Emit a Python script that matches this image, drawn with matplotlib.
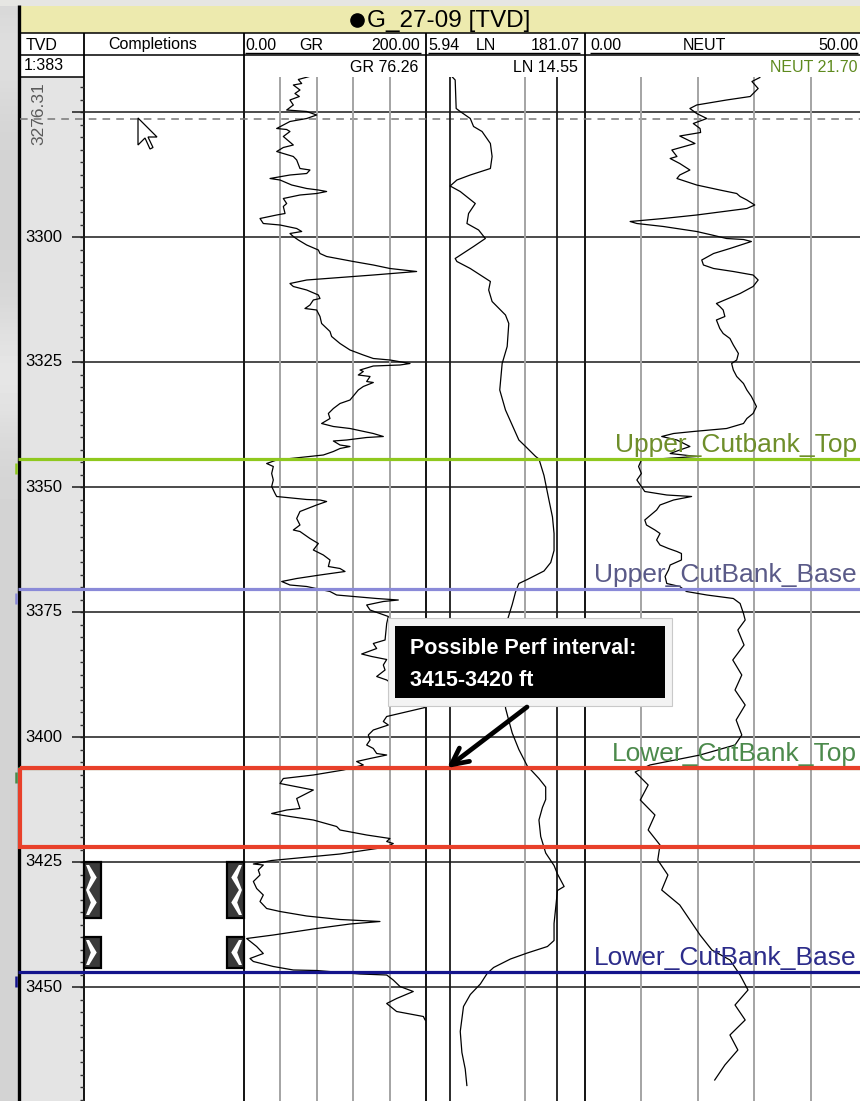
import numpy as np
import matplotlib
matplotlib.use("Agg")
import matplotlib.pyplot as plt
from matplotlib.patches import Rectangle, Polygon

plt.rcParams['font.family'] = ['Liberation Sans', 'DejaVu Sans']

# ---------------------------------------------------------------- log data
gr_depth = [3267.9, 3268.5, 3269.3, 3269.6, 3270.6, 3271.3, 3271.9, 3272.6, 3273.6, 3274.6,
            3274.9, 3275.6, 3276.3, 3276.9, 3278.3, 3278.5, 3278.9, 3279.9, 3281.6, 3282.1,
            3282.9, 3283.9, 3284.6, 3286.3, 3286.6, 3287.3, 3287.6, 3288.3, 3288.6, 3289.6,
            3290.3, 3290.6, 3290.9, 3291.3, 3291.6, 3292.3, 3293.3, 3293.9, 3295.3, 3295.6,
            3296.3, 3297.3, 3297.6, 3298.3, 3298.9, 3299.3, 3299.9, 3300.6, 3301.6, 3302.6,
            3303.3, 3303.9, 3304.9, 3305.6, 3306.3, 3306.9, 3307.6, 3307.9, 3308.6, 3309.3,
            3309.9, 3310.6, 3311.6, 3312.3, 3312.6, 3313.6, 3314.3, 3314.6, 3315.9, 3317.3,
            3318.9, 3319.9, 3321.3, 3322.6, 3323.6, 3324.3, 3324.6, 3325.3, 3325.6, 3325.8,
            3326.6, 3326.9, 3327.6, 3327.9, 3328.9, 3329.1, 3329.9, 3330.6, 3332.6, 3333.3,
            3334.3, 3335.3, 3336.3, 3337.3, 3337.9, 3338.3, 3339.3, 3339.9, 3340.1, 3340.6,
            3340.8, 3341.6, 3341.9, 3342.3, 3342.9, 3343.6, 3344.6, 3345.3, 3345.9, 3347.3,
            3348.6, 3349.9, 3351.3, 3351.9, 3352.5, 3352.6, 3352.9, 3353.6, 3354.9, 3356.3,
            3357.6, 3358.6, 3358.9, 3360.3, 3361.3, 3362.6, 3363.6, 3364.6, 3365.9, 3366.3,
            3366.9, 3367.6, 3368.3, 3368.9, 3369.6, 3369.9, 3370.9, 3371.6, 3371.9, 3372.3,
            3372.6, 3372.9, 3373.6, 3374.6, 3375.3, 3375.9, 3377.3, 3380.6, 3381.3, 3382.3,
            3383.4, 3383.9, 3384.5, 3385.6, 3386.6, 3387.9, 3388.6, 3394.1, 3395.9, 3396.9,
            3397.6, 3398.6, 3399.6, 3400.6, 3401.6, 3402.3, 3403.3, 3403.6, 3404.3, 3404.9,
            3405.6, 3406.6, 3407.6, 3408.3, 3409.3, 3410.6, 3412.3, 3414.3, 3414.6, 3415.3,
            3415.9, 3416.6, 3417.9, 3418.6, 3419.6, 3420.3, 3420.9, 3421.3, 3422.0, 3423.4,
            3424.7, 3425.4, 3425.6, 3426.6, 3427.6, 3428.9, 3430.3, 3431.6, 3432.9, 3434.3,
            3434.9, 3435.8, 3436.5, 3436.9, 3437.4, 3438.3, 3439.6, 3440.3, 3441.9, 3443.3,
            3444.3, 3444.9, 3445.9, 3446.6, 3446.7, 3447.4, 3447.6, 3448.6, 3449.9, 3450.9,
            3452.3, 3453.3, 3454.9, 3455.9, 3456.6, 3457.0]
gr_value = [71.8, 59.7, 63.4, 54.2, 61.5, 56.0, 60.8, 50.5, 54.2, 46.9,
            68.9, 79.8, 68.9, 50.5, 35.9, 46.9, 50.5, 43.2, 54.2, 43.2,
            35.9, 54.2, 57.9, 61.5, 72.5, 68.9, 50.5, 28.6, 39.6, 52.4,
            68.9, 81.7, 90.8, 79.8, 61.5, 43.2, 46.9, 43.2, 45.1, 35.9,
            17.6, 21.2, 39.6, 57.9, 63.4, 50.5, 54.2, 59.7, 68.9, 81.7,
            83.5, 90.8, 120.1, 142.1, 160.4, 189.7, 142.1, 120.1, 68.9, 50.5,
            54.2, 68.9, 81.7, 83.5, 76.2, 72.5, 67.0, 79.8, 83.5, 85.3,
            94.5, 96.3, 105.5, 116.5, 131.1, 142.1, 160.4, 182.4, 171.4, 142.1,
            127.5, 131.1, 125.6, 138.5, 134.8, 142.1, 131.1, 125.6, 116.5, 105.5,
            98.2, 92.7, 94.5, 85.3, 98.2, 116.5, 142.1, 153.1, 134.8, 112.8,
            98.2, 105.5, 116.5, 105.5, 98.2, 87.2, 35.9, 24.9, 32.2, 30.4,
            32.2, 30.4, 34.1, 35.9, 68.9, 83.5, 90.8, 79.8, 61.5, 57.9,
            61.5, 54.2, 61.5, 72.5, 81.7, 76.2, 87.2, 94.5, 92.7, 105.5,
            111.0, 83.5, 57.9, 41.4, 50.5, 68.9, 94.5, 101.8, 120.1, 145.8,
            169.6, 153.1, 134.8, 138.5, 149.4, 158.6, 156.8, 155.0, 142.1, 145.8,
            129.3, 140.3, 156.8, 153.1, 155.0, 145.8, 156.8, 199.0, 156.8, 153.1,
            158.6, 142.1, 136.6, 138.5, 134.8, 142.1, 145.8, 156.8, 138.5, 123.8,
            131.1, 109.2, 76.2, 43.2, 39.6, 76.2, 57.9, 61.5, 46.9, 30.4,
            50.5, 76.2, 101.8, 105.5, 134.8, 160.4, 156.8, 164.0, 156.8, 105.5,
            30.4, 10.3, 21.2, 15.7, 17.6, 10.3, 13.9, 21.2, 17.6, 24.9,
            39.6, 68.9, 105.5, 149.4, 116.5, 79.8, 32.2, 2.9, 13.9, 21.2,
            6.6, 10.3, 32.2, 54.2, 79.8, 127.5, 156.8, 164.0, 171.4, 186.0,
            167.7, 156.8, 167.7, 197.1, 199.0, 205.0]

ln_depth = [3267.9, 3268.6, 3274.3, 3274.9, 3276.3, 3277.9, 3278.9, 3281.3, 3283.9, 3286.3,
            3287.6, 3288.6, 3289.8, 3290.9, 3293.3, 3295.3, 3297.3, 3298.6, 3300.3, 3301.9,
            3304.3, 3304.9, 3306.3, 3308.9, 3310.6, 3312.9, 3315.6, 3317.3, 3321.9, 3325.3,
            3330.6, 3334.6, 3340.6, 3341.9, 3343.9, 3344.4, 3347.7, 3352.7, 3356.0, 3359.3,
            3362.7, 3365.1, 3366.8, 3368.5, 3369.3, 3371.0, 3373.5, 3376.4, 3394.2, 3396.7,
            3399.2, 3402.5, 3405.8, 3408.3, 3410.0, 3412.5, 3414.1, 3416.6, 3419.9, 3423.2,
            3425.7, 3427.4, 3429.9, 3430.7, 3434.0, 3437.3, 3440.7, 3441.9, 3443.2, 3444.4,
            3446.1, 3447.3, 3449.4, 3451.5, 3453.9, 3458.9, 3463.1, 3466.4, 3469.7]
ln_value = [10.35, 11.12, 11.36, 12.39, 15.38, 16.51, 19.81, 23.70, 24.59, 23.70,
            15.38, 11.54, 9.98, 12.39, 17.13, 14.83, 14.32, 18.40, 21.27, 16.51,
            11.12, 11.54, 15.38, 23.70, 22.85, 24.59, 32.78, 35.20, 34.00, 30.52,
            28.98, 32.78, 43.70, 50.5, 62.7, 67.3, 75.0, 83.6, 90.0, 93.1,
            93.1, 86.7, 75.0, 52.4, 43.7, 40.7, 37.9, 34.4, 32.8, 35.2,
            37.9, 43.7, 52.4, 67.3, 77.8, 77.8, 72.5, 67.3, 69.9, 77.8,
            93.1, 100.2, 115.6, 100.2, 96.6, 93.1, 93.1, 80.8, 52.4, 36.5,
            25.4, 22.1, 19.1, 15.4, 13.3, 12.4, 12.85, 13.8, 14.3]

neut_depth = [3268.1, 3268.9, 3270.3, 3271.9, 3272.6, 3273.6, 3274.3, 3275.3, 3276.3, 3277.3,
              3278.3, 3279.1, 3279.8, 3281.3, 3282.6, 3283.9, 3284.3, 3285.3, 3286.6, 3287.6,
              3288.3, 3289.6, 3290.6, 3291.3, 3291.9, 3292.6, 3293.6, 3294.3, 3295.6, 3296.3,
              3296.9, 3297.3, 3297.9, 3298.9, 3299.6, 3300.3, 3300.5, 3300.9, 3302.3, 3303.3,
              3304.6, 3305.6, 3306.3, 3306.9, 3307.6, 3308.6, 3309.9, 3311.3, 3313.3, 3313.9,
              3314.6, 3315.9, 3316.6, 3318.3, 3319.3, 3320.3, 3321.6, 3323.3, 3324.6, 3325.3,
              3326.6, 3327.9, 3329.3, 3330.6, 3331.9, 3333.9, 3335.3, 3336.3, 3337.3, 3338.3,
              3338.9, 3339.3, 3339.9, 3340.6, 3341.9, 3342.6, 3343.3, 3343.6, 3343.9, 3344.6,
              3345.9, 3347.3, 3348.6, 3349.9, 3350.9, 3351.6, 3351.9, 3352.6, 3353.6, 3354.6,
              3356.6, 3357.6, 3358.6, 3359.3, 3360.6, 3361.6, 3362.3, 3362.9, 3363.3, 3364.6,
              3365.6, 3366.6, 3367.9, 3369.3, 3369.9, 3370.9, 3371.6, 3372.3, 3373.3, 3375.3,
              3376.6, 3378.6, 3381.6, 3384.6, 3387.6, 3390.6, 3393.6, 3396.6, 3399.6, 3401.6,
              3403.6, 3405.6, 3407.0, 3409.6, 3412.6, 3415.6, 3418.6, 3421.6, 3424.6, 3427.6,
              3430.6, 3433.6, 3436.6, 3439.6, 3442.6, 3444.6, 3447.6, 3450.6, 3453.6, 3456.6,
              3459.6, 3462.6, 3465.6, 3468.6]
neut_value = [31.0, 29.6, 30.7, 29.3, 25.1, 19.8, 18.6, 19.8, 21.6, 19.2,
              20.4, 20.5, 16.8, 19.5, 15.4, 16.3, 15.1, 16.8, 18.6, 16.8,
              16.3, 19.8, 23.9, 26.9, 27.5, 28.7, 30.1, 28.7, 19.8, 13.9,
              8.0, 9.2, 13.9, 19.8, 22.5, 25.1, 28.1, 29.5, 25.7, 22.8,
              20.7, 21.0, 22.8, 26.3, 29.8, 30.7, 29.8, 27.5, 23.3, 23.9,
              24.5, 24.8, 23.3, 23.9, 24.5, 25.7, 26.3, 27.2, 26.9, 26.0,
              26.3, 26.9, 28.1, 28.7, 29.5, 30.4, 29.8, 28.7, 28.1, 25.1,
              19.2, 15.7, 13.6, 16.3, 18.6, 16.8, 15.1, 17.4, 19.8, 10.0,
              9.5, 10.0, 9.2, 10.0, 10.6, 14.5, 18.9, 15.7, 13.3, 12.7,
              10.6, 10.9, 12.4, 13.3, 12.7, 13.3, 14.8, 16.3, 17.1, 17.1,
              15.1, 14.8, 14.2, 14.5, 16.8, 18.0, 21.6, 26.3, 27.5, 28.1,
              28.4, 27.1, 28.2, 26.2, 27.8, 26.6, 28.4, 26.8, 27.8, 26.6,
              20.4, 11.5, 8.9, 11.2, 9.8, 12.4, 11.2, 13.3, 12.9, 14.7,
              13.6, 16.8, 18.6, 20.4, 22.5, 25.7, 27.5, 28.9, 26.6, 28.4,
              25.7, 27.1, 24.8, 23.0]

# formation tops
tops_name = ["Upper_Cutbank_Top", "Upper_CutBank_Base", "Lower_CutBank_Top", "Lower_CutBank_Base"]
tops_depth = [3344.4, 3370.4, 3406.2, 3447.0]
tops_line_color = ["#8FC81E", "#8A8AD8", "#4A8A4A", "#14148C"]
tops_text_color = ["#6E8E2A", "#5A5A88", "#4C8A4C", "#2C2C8A"]

# completions (perforated intervals) and highlighted interval
perf_top = [3425.0, 3440.0]
perf_base = [3436.2, 3446.2]
box_top, box_base = 3406.2, 3422.0

# depth scale and cursor readout
depth_major = [3275, 3300, 3325, 3350, 3375, 3400, 3425, 3450]
depth_minor_step = 2.5
cursor_depth = 3276.31
readout_gr, readout_ln, readout_neut = 76.26, 14.55, 21.70

# curve scales
gr_range = (0.0, 200.0)
ln_range = (5.94, 181.07)
neut_range = (0.0, 50.0)
gr_grid = [40, 80, 120, 160]
ln_grid_minor = [50]
ln_grid_major = [10, 100]
neut_grid = [10, 20, 30, 40]

# ---------------------------------------------------------------- layout
W, H = 860, 1101
D_TOP, D_BOT = 3268.0, 3472.8          # depth shown between y=77 px and the bottom

fig = plt.figure(figsize=(W / 100, H / 100), dpi=100)
fig.patch.set_facecolor("#D8D7D0")


def px_axes(x0, x1, y0, y1, z):
    ax = fig.add_axes([x0 / W, 1 - y1 / H, (x1 - x0) / W, (y1 - y0) / H])
    ax.set_zorder(z)
    ax.axis("off")
    return ax


# frame: header, column boxes, borders (pixel units)
frame = px_axes(0, W, 0, H, 0)
frame.set_xlim(0, W)
frame.set_ylim(H, 0)

# soft desktop background on the left edge
grad = np.linspace(0, 1, 300)[:, None]
shade = 0.83 + 0.07 * np.exp(-((grad - 0.34) / 0.06) ** 2) + 0.04 * np.exp(-((grad - 0.05) / 0.05) ** 2)
frame.imshow(shade, cmap="gray", vmin=0, vmax=1, extent=(0, 18, H, 0), aspect="auto", zorder=0)
frame.add_patch(Rectangle((0, 0), W, 6, fc="#E6E6E3", ec="none", zorder=0))

frame.add_patch(Rectangle((18, 6), W, H, fc="white", ec="none", zorder=1))
frame.add_patch(Rectangle((20, 6), W, 27, fc="#EDEAAE", ec="none", zorder=1))
frame.add_patch(Rectangle((20, 77), 64, H, fc="#E4E4E4", ec="none", zorder=1))
frame.vlines(18.5, 5, H, color="black", lw=2.4, zorder=3)
frame.hlines([33, 55], 20, W, color="black", lw=1.1, zorder=3)
frame.hlines(77, 20, 84, color="black", lw=1.1, zorder=3)
frame.vlines([84, 244, 426, 585], 33, H, color="black", lw=1.3, zorder=3)

# title bar
frame.plot(357, 20, "o", ms=9.5, color="black", zorder=4)
frame.text(367, 20.5, "G_27-09 [TVD]", fontsize=17.5, ha="left", va="center", zorder=4)

# track headers
hdr = dict(fontsize=11.5, va="center", zorder=4)
frame.text(42, 45, "TVD", ha="center", **hdr)
frame.text(153, 45, "Completions", ha="center", **hdr)
frame.text(245, 45, f"{gr_range[0]:.2f}", ha="left", **hdr)
frame.text(311, 45, "GR", ha="center", **hdr)
frame.text(420, 45, f"{gr_range[1]:.2f}", ha="right", **hdr)
frame.text(428, 45, f"{ln_range[0]:.2f}", ha="left", **hdr)
frame.text(486, 45, "LN", ha="center", **hdr)
frame.text(580, 45, f"{ln_range[1]:.2f}", ha="right", **hdr)
frame.text(590, 45, f"{neut_range[0]:.2f}", ha="left", **hdr)
frame.text(704, 45, "NEUT", ha="center", **hdr)
frame.text(858, 45, f"{neut_range[1]:.2f}", ha="right", **hdr)
frame.hlines(53, 245, 421, color="black", lw=1.0, zorder=4)
frame.hlines(53, 428, 580, color="black", lw=1.0, zorder=4)
frame.hlines(53, 590, 858, color="black", lw=1.0, zorder=4)

frame.text(24, 66, "1:383", ha="left", **hdr)
frame.text(418, 68, f"GR {readout_gr:.2f}", ha="right", **hdr)
frame.text(578, 68, f"LN {readout_ln:.2f}", ha="right", **hdr)
frame.text(858, 68, f"NEUT {readout_neut:.2f}", ha="right", color="#5E8A1E",
           fontsize=11.5, va="center", zorder=4)

# depth grid layer (x in pixels, y in feet)
bg = px_axes(18, 867, 77, H, 1)
bg.set_xlim(18, 867)
bg.set_ylim(D_BOT, D_TOP)
minor = np.arange(3267.5, D_BOT, depth_minor_step)
bg.hlines(minor, 80, 84, color="#333333", lw=1.0)
bg.hlines(depth_major, 72, 867, color="#1A1A1A", lw=1.1)
for d in depth_major[1:]:
    bg.text(44, d, f"{d}", ha="center", va="center", fontsize=12)
bg.text(39, cursor_depth - 0.9, f"{cursor_depth:.2f}", rotation=90, ha="center", va="center",
        fontsize=12.5, color="#5A5A5A")
bg.hlines(cursor_depth, 20, 867, color="#777777", lw=1.1, linestyles=(0, (5, 4)))

# curve tracks
def track(x0, x1, lo, hi, log=False):
    ax = px_axes(x0, x1, 77, H, 2)
    if log:
        ax.set_xscale("log")
    ax.set_xlim(lo, hi)
    ax.set_ylim(D_BOT, D_TOP)
    return ax


ax_gr = track(244, 426, *gr_range)
ax_gr.vlines(gr_grid, D_BOT, D_TOP, color="#A4A4A4", lw=1.4)
ax_gr.plot(gr_value, gr_depth, color="black", lw=0.9)

ax_ln = track(426, 585, *ln_range, log=True)
ax_ln.vlines(ln_grid_minor, D_BOT, D_TOP, color="#A4A4A4", lw=1.4)
ax_ln.vlines(ln_grid_major, D_BOT, D_TOP, color="#1A1A1A", lw=1.3)
ax_ln.plot(ln_value, ln_depth, color="black", lw=0.9)

ax_nt = track(585, 867, *neut_range)
ax_nt.vlines(neut_grid, D_BOT, D_TOP, color="#A4A4A4", lw=1.4)
ax_nt.plot(neut_value, neut_depth, color="black", lw=0.9)

# overlay: tops, highlight box, completions
ov = px_axes(18, 867, 77, H, 3)
ov.set_xlim(18, 867)
ov.set_ylim(D_BOT, D_TOP)
for name, d, lc, tc in zip(tops_name, tops_depth, tops_line_color, tops_text_color):
    ov.hlines(d, 18, 867, color=lc, lw=2.3)
    ov.vlines(15.8, d + 0.8, d + 3.0, color=lc, lw=1.8, clip_on=False)
    ov.text(857, d - 1.35, name, ha="right", va="baseline", fontsize=19, color=tc)

ov.add_patch(Rectangle((20, box_top), 900, box_base - box_top, fill=False,
                       ec="#E8402A", lw=3.0, zorder=6))

for t, b in zip(perf_top, perf_base):
    n = max(1, int(round((b - t) / 5.0)))
    ys = np.linspace(t + 0.6, b - 0.6, 2 * n + 1)
    for x0, flip in ((84, False), (227, True)):
        w = 17.0
        ov.add_patch(Rectangle((x0, t), w, b - t, fc="#3A3A3A", ec="black", lw=1.6, zorder=5))
        edge = [0.3 if i % 2 == 0 else 0.75 for i in range(len(ys))]
        inner = [0.12 if i % 2 == 0 else 0.4 for i in range(len(ys))]
        if flip:
            pts = [(x0 + w * (1 - e), y) for e, y in zip(edge, ys)] + \
                  [(x0 + w * (1 - e), y) for e, y in zip(inner[::-1], ys[::-1])]
        else:
            pts = [(x0 + w * e, y) for e, y in zip(edge, ys)] + \
                  [(x0 + w * e, y) for e, y in zip(inner[::-1], ys[::-1])]
        ov.add_patch(Polygon(pts, closed=True, fc="white", ec="none", zorder=6))

# annotation layer (pixel units)
top = px_axes(0, W, 0, H, 4)
top.set_xlim(0, W)
top.set_ylim(H, 0)
top.add_patch(Rectangle((388, 618), 284, 88, fc="#F3F3F3", ec="#C9C9C9", lw=0.8))
top.add_patch(Rectangle((395, 626), 270, 72, fc="black", ec="none"))
callout = dict(color="white", fontsize=15.5, fontweight="bold", ha="left", va="center")
top.text(410, 648, "Possible Perf interval:", **callout)
top.text(410, 680, "3415-3420 ft", **callout)

tip = top.transData.inverted().transform(ov.transData.transform((447, box_top)))
top.annotate("", xy=tip, xytext=(527, 707),
             arrowprops=dict(arrowstyle="->", lw=3.4, color="black", mutation_scale=30,
                             shrinkA=0, shrinkB=0))

# mouse pointer glyph
pointer = np.array([(0, 0), (0, 27), (7, 20), (12, 31), (15, 29.5), (10, 19), (19, 19)])
top.add_patch(Polygon(pointer + (138, 118), closed=True, fc="white", ec="black", lw=0.9))

fig.savefig("out.png", dpi=100, facecolor=fig.get_facecolor())
